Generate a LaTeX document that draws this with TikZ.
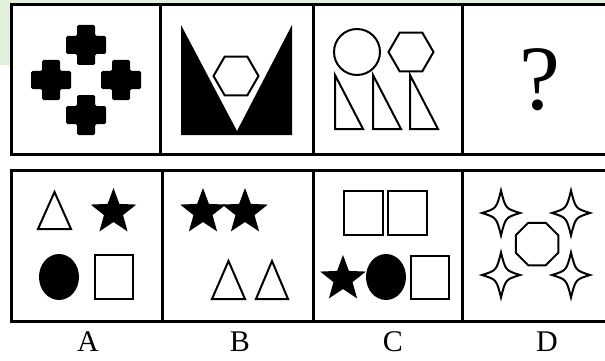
\documentclass[tikz,border=0pt]{standalone}
\usepackage{fontspec}
\setmainfont{Liberation Serif}
\usepackage{xcolor}
\usetikzlibrary{shapes.geometric}
\definecolor{paleGreen}{RGB}{226,239,218}

\tikzset{
  frame/.style={line width=3pt},
  outline/.style={line width=2pt, line join=miter},
  fivestar/.style={star, star points=5, star point ratio=2.4, fill=black, inner sep=0pt, minimum size=48pt},
  hexa/.style={regular polygon, regular polygon sides=6, draw, line width=2pt, fill=white, inner sep=0pt, minimum size=45pt},
  octa/.style={regular polygon, regular polygon sides=8, draw, line width=2pt, inner sep=0pt, minimum size=46pt},
  letter/.style={font=\fontsize{30}{30}\selectfont, inner sep=0pt}
}

\begin{document}
\begin{tikzpicture}[x=1pt, y=-1pt]
    \useasboundingbox (0,0) rectangle (605,361);
    % background corner
    \fill[paleGreen] (0,0) rectangle (62,65);
    \fill[paleGreen] (0,0) rectangle (605,5);

    % -------------------------
    % Top row (question)
    % -------------------------
    \fill[white] (11,5) rectangle (611,154);
    \draw[frame] (11,5) rectangle (611,154);
    \draw[frame] (160,5) -- (160,154);
    \draw[frame] (313,5) -- (313,154);
    \draw[frame] (462,5) -- (462,154);

    % four crosses
    \foreach \cx/\cy in {86/45, 51/80, 121/80, 86/115}
        \fill[rounded corners=1.5pt] (\cx-9,\cy-20) -- (\cx+9,\cy-20) -- (\cx+9,\cy-9)
            -- (\cx+20,\cy-9) -- (\cx+20,\cy+9) -- (\cx+9,\cy+9) -- (\cx+9,\cy+20)
            -- (\cx-9,\cy+20) -- (\cx-9,\cy+9) -- (\cx-20,\cy+9) -- (\cx-20,\cy-9)
            -- (\cx-9,\cy-9) -- cycle;

    % V block with hexagon
    \fill (181,25) -- (237,131) -- (292,25) -- (292,135) -- (181,135) -- cycle;
    \node[hexa] (hexV) at (236,76) {};

    % circle, hexagon, three right triangles
    \draw[outline] (357,52) circle (23);
    \node[hexa] (hexC) at (411,52) {};
    \foreach \tx in {335, 373, 410}
        \draw[outline] (\tx,75) -- (\tx,129) -- (\tx+28,129) -- cycle;

    % question mark
    \node[font=\fontsize{92}{92}\selectfont, inner sep=0pt] (quest) at (540,80) {?};

    % -------------------------
    % Bottom row (options)
    % -------------------------
    \fill[white] (11,170) rectangle (611,321);
    \draw[frame] (11,170) rectangle (611,321);
    \draw[frame] (162,170) -- (162,321);
    \draw[frame] (313,170) -- (313,321);
    \draw[frame] (462,170) -- (462,321);

    % option A
    \draw[outline] (54.5,192) -- (71,229) -- (38,229) -- cycle;
    \node[fivestar] (starA) at (113.5,212) {};
    \fill (59,277) ellipse (20 and 23);
    \draw[outline] (95,255) rectangle (133,299);

    % option B
    \node[fivestar] (starBa) at (203,212) {};
    \node[fivestar] (starBb) at (245,212) {};
    \draw[outline] (228.5,261) -- (245,299) -- (212,299) -- cycle;
    \draw[outline] (272,261) -- (288,299) -- (256,299) -- cycle;

    % option C
    \draw[outline] (344,191) rectangle (383,235);
    \draw[outline] (388,191) rectangle (427,235);
    \node[fivestar] (starC) at (343,279) {};
    \fill (386,277) ellipse (20 and 23);
    \draw[outline] (411,256) rectangle (449,299);

    % option D
    \foreach \cx/\cy in {501/213, 571/213, 501/275, 571/275}
        \draw[outline] (\cx,\cy-22.5) .. controls (\cx+4.5,\cy-4.5) .. (\cx+19,\cy)
            .. controls (\cx+4.5,\cy+4.5) .. (\cx,\cy+22.5)
            .. controls (\cx-4.5,\cy+4.5) .. (\cx-19,\cy)
            .. controls (\cx-4.5,\cy-4.5) .. cycle;
    \node[octa] (octD) at (537,244) {};

    % labels
    \node[letter] (labA) at (88,342) {A};
    \node[letter] (labB) at (240,342) {B};
    \node[letter] (labC) at (393,342) {C};
    \node[letter] (labD) at (547,342) {D};
\end{tikzpicture}
\end{document}
